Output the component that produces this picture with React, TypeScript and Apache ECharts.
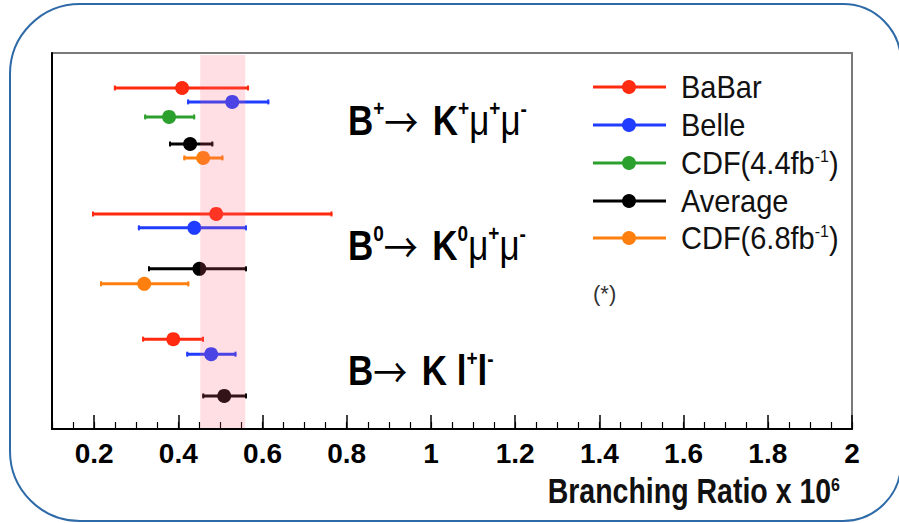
import React, { useEffect, useRef } from "react";
import * as echarts from "echarts";

// ---- data ----
// each entry: [central value, lower edge, upper edge, row position]
const babar = [
  [0.409, 0.247, 0.568, 9.3],
  [0.49, 0.195, 0.766, 42.8],
  [0.388, 0.314, 0.461, 76.1],
];
const belle = [
  [0.528, 0.421, 0.616, 13.0],
  [0.438, 0.304, 0.563, 46.5],
  [0.478, 0.419, 0.538, 80.1],
];
const cdf44 = [[0.378, 0.319, 0.44, 17.0]];
const average = [
  [0.428, 0.378, 0.483, 24.2],
  [0.45, 0.328, 0.563, 57.4],
  [0.509, 0.457, 0.563, 91.2],
];
const cdf68 = [
  [0.459, 0.412, 0.507, 27.9],
  [0.319, 0.214, 0.426, 61.4],
];
const bandRange = [0.452, 0.559];
const majorTicks = [0.2, 0.4, 0.6, 0.8, 1.0, 1.2, 1.4, 1.6, 1.8, 2.0];
const seriesNames = ["BaBar", "Belle", "CDF(4.4fb-1)", "Average", "CDF(6.8fb-1)"];
const legendLabels = [
  "BaBar",
  "Belle",
  "CDF(4.4fb{s|-1})",
  "Average",
  "CDF(6.8fb{s|-1})",
];
const seriesColors = ["#ff2a10", "#1f3cff", "#2ca02c", "#000000", "#ff7f0e"];

const FONT = "'Liberation Sans', Arial, Helvetica, sans-serif";

export default function App() {
  const ref = useRef<HTMLDivElement>(null);

  useEffect(() => {
    if (!ref.current) return;
    const chart = echarts.init(ref.current, null, { renderer: "svg" });

    const makeErr = (color: string) => (params: any, api: any) => {
      const y = api.value(3);
      const c = api.coord([api.value(0), y]);
      const lo = api.coord([api.value(1), y]);
      const hi = api.coord([api.value(2), y]);
      return {
        type: "group",
        children: [
          {
            type: "line",
            shape: { x1: lo[0], y1: lo[1], x2: hi[0], y2: hi[1] },
            style: { stroke: color, lineWidth: 3 },
          },
          {
            type: "line",
            shape: { x1: lo[0] + 1, y1: lo[1] - 2.5, x2: lo[0] + 1, y2: lo[1] + 2.5 },
            style: { stroke: color, lineWidth: 2 },
          },
          {
            type: "line",
            shape: { x1: hi[0] - 1, y1: hi[1] - 2.5, x2: hi[0] - 1, y2: hi[1] + 2.5 },
            style: { stroke: color, lineWidth: 2 },
          },
          {
            type: "circle",
            shape: { cx: c[0], cy: c[1], r: 7 },
            style: { fill: color },
          },
        ],
      };
    };

    const datasets = [babar, belle, cdf44, average, cdf68];
    const errSeries = datasets.map((d, i) => ({
      name: seriesNames[i],
      type: "custom",
      xAxisIndex: 0,
      yAxisIndex: 0,
      z: 2,
      renderItem: makeErr(seriesColors[i]),
      encode: { x: [0, 1, 2], y: 3 },
      data: d,
    }));

    const bandSeries = {
      name: "band",
      type: "custom",
      z: 5,
      xAxisIndex: 0,
      yAxisIndex: 0,
      silent: true,
      renderItem: (params: any, api: any) => {
        const p1 = api.coord([api.value(0), 0]);
        const p2 = api.coord([api.value(1), 100]);
        return {
          type: "rect",
          shape: { x: p1[0], y: p1[1] + 2, width: p2[0] - p1[0], height: p2[1] - p1[1] - 3 },
          style: { fill: "rgba(255,95,115,0.2)" },
        };
      },
      encode: { x: [0, 1] },
      data: [bandRange],
    };

    const rowsY = [87, 125, 163, 201, 238];
    const legendGraphics: any[] = [];
    seriesColors.forEach((col, i) => {
      legendGraphics.push({
        type: "line",
        shape: { x1: 593, y1: rowsY[i], x2: 666, y2: rowsY[i] },
        style: { stroke: col, lineWidth: 3 },
      });
      legendGraphics.push({
        type: "circle",
        shape: { cx: 629, cy: rowsY[i], r: 7 },
        style: { fill: col },
      });
      legendGraphics.push({
        type: "text",
        x: 681,
        y: rowsY[i],
        scaleY: 1.06,
        style: {
          text: legendLabels[i],
          fontSize: 29,
          fontFamily: FONT,
          fill: "#111",
          verticalAlign: "middle",
          align: "left",
          rich: {
            s: { fontSize: 16, fontFamily: FONT, fill: "#111", verticalAlign: "top" },
          },
        },
      });
    });

    const bigRich = {
      b: { fontSize: 35, fontWeight: "bold", fontFamily: FONT, fill: "#000", lineHeight: 40 },
      n: { fontSize: 35, fontWeight: "normal", fontFamily: FONT, fill: "#000", lineHeight: 40 },
      w: { fontSize: 52, fontWeight: "normal", fontFamily: FONT, fill: "#000", lineHeight: 40 },
      a: {
        fontSize: 34,
        fontWeight: "normal",
        fontFamily: "'Noto Sans CJK SC', 'DejaVu Sans', sans-serif",
        fill: "#000",
        lineHeight: 40,
      },
      s: { fontSize: 19, fontWeight: "bold", fontFamily: FONT, fill: "#000", verticalAlign: "top", lineHeight: 40 },
    };

    const bigLabel = (text: string, y: number) => ({
      type: "text",
      x: 348,
      y,
      scaleY: 1.2,
      style: {
        text,
        fontSize: 35,
        fontFamily: FONT,
        verticalAlign: "middle",
        align: "left",
        rich: bigRich,
      },
    });

    chart.setOption({
      animation: false,
      backgroundColor: "#ffffff",
      grid: {
        left: 52,
        right: 47,
        top: 53,
        bottom: 94,
        show: true,
        borderColor: "#7a7a7a",
        borderWidth: 2,
        backgroundColor: "transparent",
      },
      xAxis: [
        {
          type: "value",
          min: 0.1,
          max: 2.0,
          position: "bottom",
          axisLine: { show: true, onZero: false, lineStyle: { color: "#000", width: 2 } },
          axisTick: {
            show: true,
            inside: true,
            length: 14,
            customValues: majorTicks,
            lineStyle: { color: "#000", width: 1.5 },
          },
          axisLabel: {
            show: true,
            customValues: majorTicks,
            fontSize: 28,
            fontWeight: "bold",
            fontFamily: FONT,
            color: "#000",
            margin: 10,
            formatter: (v: number) => String(Math.round(v * 10) / 10),
          },
          splitLine: { show: false },
        },
        {
          // minor ticks: placed at top then shifted down onto the bottom edge
          type: "value",
          min: 0.1,
          max: 2.0,
          interval: 0.05,
          position: "top",
          offset: -376,
          axisLine: { show: false },
          axisTick: { show: true, inside: false, length: 7, lineStyle: { color: "#000", width: 1.2 } },
          axisLabel: { show: false },
          splitLine: { show: false },
        },
      ],
      yAxis: {
        type: "value",
        min: 0,
        max: 100,
        inverse: true,
        axisLine: { show: true, onZero: false, lineStyle: { color: "#000", width: 2 } },
        axisTick: { show: false },
        axisLabel: { show: false },
        splitLine: { show: false },
      },
      series: [...errSeries, bandSeries],
      graphic: [
        {
          type: "rect",
          shape: { x: 10, y: 4, width: 891, height: 517, r: [70, 58, 58, 70] },
          style: { fill: "none", stroke: "#2f6aa8", lineWidth: 2 },
          z: 0,
        },
        bigLabel("{b|B}{s|+}{a|→}{w| }{b|K}{s|+}{n|μ}{s|+}{n|μ}{s|-}", 120),
        bigLabel("{b|B}{s|0}{a|→}{w| }{b|K}{s|0}{n|μ}{s|+}{n|μ}{s|-}", 245),
        bigLabel("{b|B}{a|→}{w| }{b|K l}{s|+}{b|l}{s|-}", 370),
        ...legendGraphics,
        {
          type: "text",
          x: 593,
          y: 293,
          style: {
            text: "(*)",
            fontSize: 22,
            fontFamily: FONT,
            fill: "#333",
            verticalAlign: "middle",
            align: "left",
          },
        },
        {
          type: "text",
          x: 840,
          y: 492,
          scaleY: 1.2,
          style: {
            text: "Branching Ratio x 10{s|6}",
            fontSize: 28.5,
            fontWeight: "bold",
            fontFamily: FONT,
            fill: "#111",
            verticalAlign: "middle",
            align: "right",
            rich: {
              s: { fontSize: 16, fontWeight: "bold", fontFamily: FONT, fill: "#111", verticalAlign: "top" },
            },
          },
        },
      ],
    });

    return () => chart.dispose();
  }, []);

  return (
    <div
      ref={ref}
      style={{ position: "fixed", left: 0, top: 0, width: 899, height: 523, background: "#fff" }}
    />
  );
}
